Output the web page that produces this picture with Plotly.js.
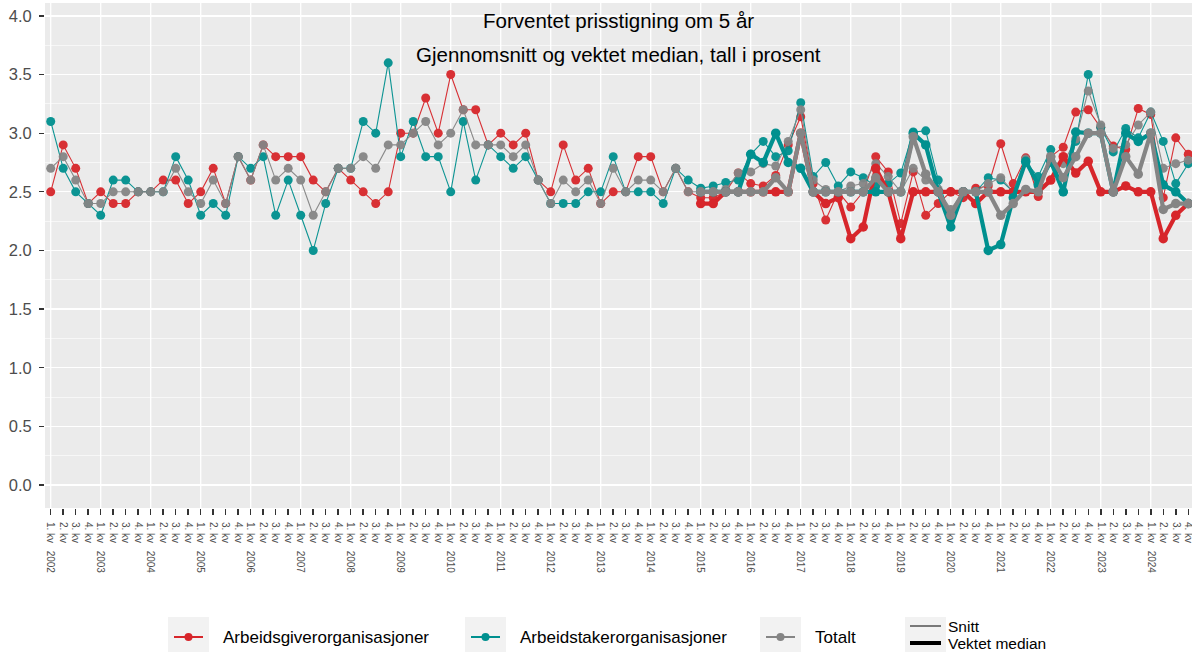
<!DOCTYPE html>
<html>
<head>
<meta charset="utf-8">
<script src="https://cdn.plot.ly/plotly-3.0.1.min.js"></script>
<style>html,body{margin:0;padding:0;overflow:hidden;background:#fff}#chart{width:1192px;height:652px}</style>
</head>
<body>
<div id="chart"></div>
<script>
// ---------- DATA ----------
const years = [2002,2003,2004,2005,2006,2007,2008,2009,2010,2011,2012,2013,2014,2015,2016,2017,2018,2019,2020,2021,2022,2023,2024];
const quarterNames = ["1. kv", "2. kv", "3. kv", "4. kv"];

// Snitt (mean), 2002 Q1 - 2024 Q4
const snittArbeidsgiver = [2.5,2.9,2.7,2.4, 2.5,2.4,2.4,2.5, 2.5,2.6,2.6,2.4, 2.5,2.7,2.4,2.8, 2.6,2.9,2.8,2.8, 2.8,2.6,2.5,2.7,
  2.6,2.5,2.4,2.5, 3.0,3.0,3.3,3.0, 3.5,3.2,3.2,2.9, 3.0,2.9,3.0,2.6, 2.5,2.9,2.6,2.7, 2.4,2.5,2.5,2.8, 2.8,2.5,2.7,2.5,
  2.45,2.45,2.5,2.66, 2.57,2.55,2.64,2.9, 3.14,2.57,2.26,2.5, 2.37,2.5,2.8,2.67, 2.23,2.67,2.3,2.4, 2.5,2.45,2.53,2.55,
  2.91,2.57,2.79,2.46, 2.8,2.88,3.18,3.2, 3.05,2.89,2.86,3.21, 3.16,2.45,2.96,2.82];
const snittArbeidstaker = [3.1,2.7,2.5,2.4, 2.3,2.6,2.6,2.5, 2.5,2.5,2.8,2.6, 2.3,2.4,2.3,2.8, 2.7,2.8,2.3,2.6, 2.3,2.0,2.4,2.7,
  2.7,3.1,3.0,3.6, 2.8,3.1,2.8,2.8, 2.5,3.1,2.6,2.9, 2.8,2.7,2.8,2.6, 2.4,2.4,2.4,2.5, 2.5,2.8,2.5,2.5, 2.5,2.4,2.7,2.6,
  2.53,2.55,2.58,2.6, 2.82,2.93,2.8,2.85, 3.26,2.63,2.75,2.55, 2.67,2.62,2.55,2.57, 2.66,3.01,3.02,2.6, 2.27,2.5,2.5,2.62,
  2.6,2.5,2.75,2.63, 2.86,2.5,2.93,3.5, 3.05,2.84,3.04,2.96, 3.18,2.93,2.57,2.74];
const snittTotalt = [2.7,2.8,2.6,2.4, 2.4,2.5,2.5,2.5, 2.5,2.5,2.7,2.5, 2.4,2.6,2.4,2.8, 2.6,2.9,2.6,2.7, 2.6,2.3,2.5,2.7,
  2.7,2.8,2.7,2.9, 2.9,3.0,3.1,2.9, 3.0,3.2,2.9,2.9, 2.9,2.8,2.9,2.6, 2.4,2.6,2.5,2.6, 2.4,2.7,2.5,2.6, 2.6,2.5,2.7,2.5,
  2.5,2.5,2.52,2.66, 2.67,2.74,2.72,2.93, 3.2,2.6,2.52,2.5, 2.55,2.57,2.74,2.63, 2.5,2.7,2.6,2.52, 2.35,2.5,2.5,2.57,
  2.62,2.5,2.78,2.55, 2.75,2.74,2.95,3.36, 3.07,2.87,2.9,3.07, 3.18,2.7,2.74,2.77];

// Vektet median, 2015 Q1 - 2024 Q4
const medianStart = 52;
const medianArbeidsgiver = [2.4,2.4,2.5,2.5, 2.5,2.5,2.5,2.5, 3.0,2.5,2.4,2.45, 2.1,2.2,2.7,2.5, 2.1,2.5,2.5,2.5,
  2.5,2.5,2.4,2.5, 2.5,2.5,2.5,2.5, 2.6,2.8,2.66,2.76, 2.5,2.5,2.55,2.5, 2.5,2.1,2.3,2.4];
const medianArbeidstaker = [2.5,2.5,2.5,2.5, 2.82,2.75,3.0,2.75, 2.7,2.5,2.5,2.5, 2.5,2.5,2.5,2.5, 2.5,3.0,2.9,2.5,
  2.2,2.5,2.5,2.0, 2.05,2.45,2.76,2.56, 2.76,2.5,3.01,3.0, 3.0,2.5,3.0,2.93, 3.0,2.56,2.5,2.4];
const medianTotalt = [2.5,2.5,2.5,2.5, 2.5,2.5,2.62,2.5, 3.0,2.5,2.5,2.5, 2.5,2.5,2.62,2.5, 2.5,2.97,2.65,2.5,
  2.3,2.5,2.5,2.5, 2.3,2.4,2.52,2.5, 2.8,2.62,2.8,3.0, 3.0,2.5,2.8,2.65, 3.0,2.35,2.4,2.4];

const seriesNames = ["Arbeidsgiverorganisasjoner", "Arbeidstakerorganisasjoner", "Totalt"];
const lineTypeNames = ["Snitt", "Vektet median"];
const yTicks = [0, 0.5, 1, 1.5, 2, 2.5, 3, 3.5, 4];

// ---------- BUILD ----------
const colors = ["#D7262B", "#00908F", "#858585"];
const nQ = years.length * 4;
const xAll = [], tickText = [], yearStarts = [];
years.forEach((yr, yi) => quarterNames.forEach((q, qi) => {
  const i = yi * 4 + qi;
  xAll.push(i);
  tickText.push(qi === 0 ? q + "\u00a0\u00a0\u2009" + yr : q);
  if (qi === 0) yearStarts.push(i);
}));
const xMed = medianArbeidsgiver.map((_, k) => medianStart + k);

const snitt = [snittArbeidsgiver, snittArbeidstaker, snittTotalt];
const medians = [medianArbeidsgiver, medianArbeidstaker, medianTotalt];

const traces = [];
snitt.forEach((ys, s) => traces.push({
  type: "scatter", mode: "lines+markers", x: xAll, y: ys, showlegend: false,
  line: {color: colors[s], width: 1.1}, opacity: 0.95,
  marker: {color: colors[s], size: 9}, hoverinfo: "skip"
}));
medians.forEach((ys, s) => traces.push({
  type: "scatter", mode: "lines+markers", x: xMed, y: ys, showlegend: false,
  line: {color: colors[s], width: 4.2},
  marker: {color: colors[s], size: 9.5}, hoverinfo: "skip"
}));

// geometry (pixels)
const W = 1192, H = 652, L = 45, R = 0, T = 3, B = 144;
const pw = W - L - R, ph = H - T - B;
const px2x = p => (p - L) / pw;
const py2y = p => (H - B - p) / ph;

// year gridlines (at each 1. kv)
const shapes = yearStarts.map(v => ({
  type: "line", xref: "x", yref: "paper", layer: "below", x0: v, x1: v, y0: 0, y1: 1,
  line: {color: "#FFFFFF", width: 1.3}
}));

// custom legend (boxes, keys, labels)
const annotations = [];
const keyX = [168, 465, 760];
const textX = [221, 518, 813];
const legY = 637;
keyX.forEach((x0, s) => {
  shapes.push({type: "rect", xref: "paper", yref: "paper", layer: "below",
    x0: px2x(x0), x1: px2x(x0 + 41), y0: py2y(654), y1: py2y(617), fillcolor: "#F2F2F2", line: {width: 0}});
  shapes.push({type: "line", xref: "paper", yref: "paper",
    x0: px2x(x0 + 6), x1: px2x(x0 + 35), y0: py2y(legY), y1: py2y(legY), line: {color: colors[s], width: 2}});
  shapes.push({type: "circle", xref: "paper", yref: "paper",
    x0: px2x(x0 + 16.5), x1: px2x(x0 + 24.5), y0: py2y(legY + 4), y1: py2y(legY - 4),
    fillcolor: colors[s], line: {width: 0}});
  annotations.push({text: seriesNames[s], xref: "paper", yref: "paper", x: px2x(textX[s]), y: py2y(legY),
    xanchor: "left", yanchor: "middle", showarrow: false, font: {size: 17, color: "#000"}});
});
shapes.push({type: "rect", xref: "paper", yref: "paper", layer: "below",
  x0: px2x(905), x1: px2x(946), y0: py2y(654), y1: py2y(617), fillcolor: "#F2F2F2", line: {width: 0}});
[[626, 1], [643, 4]].forEach(([yy, w], k) => {
  shapes.push({type: "line", xref: "paper", yref: "paper",
    x0: px2x(910), x1: px2x(941), y0: py2y(yy), y1: py2y(yy), line: {color: "#000", width: w}});
  annotations.push({text: lineTypeNames[k], xref: "paper", yref: "paper", x: px2x(946), y: py2y(yy),
    xanchor: "left", yanchor: "middle", showarrow: false, font: {size: 15.5, color: "#000"}});
});

annotations.push(
  {text: "Forventet prisstigning om 5 år", xref: "paper", yref: "paper", x: 0.5, y: py2y(20),
   xanchor: "center", yanchor: "middle", showarrow: false, font: {size: 20.5, color: "#000"}},
  {text: "Gjennomsnitt og vektet median, tall i prosent", xref: "paper", yref: "paper", x: 0.5, y: py2y(55),
   xanchor: "center", yanchor: "middle", showarrow: false, font: {size: 20.5, color: "#000"}}
);

const layout = {
  width: W, height: H,
  margin: {l: L, r: R, t: T, b: B, pad: 0},
  paper_bgcolor: "#FFFFFF", plot_bgcolor: "#EBEBEB",
  font: {family: "Liberation Sans, Arial, sans-serif", color: "#000"},
  showlegend: false,
  xaxis: {
    range: [-0.456, nQ - 0.7], tickmode: "array", tickvals: xAll, ticktext: tickText,
    tickangle: 90, tickfont: {size: 10, color: "#4D4D4D"}, ticklabelstandoff: 5, ticklabeloverflow: "allow",
    ticks: "outside", ticklen: 6, tickwidth: 1.5, tickcolor: "#333333",
    showgrid: false, zeroline: false, showline: false, automargin: false
  },
  yaxis: {
    range: [-0.196, 4.11], tickmode: "array", tickvals: yTicks, tickformat: ".1f",
    tickfont: {size: 16.5, color: "#4D4D4D"}, ticklabelstandoff: 4,
    ticks: "outside", ticklen: 5, tickwidth: 1.3, tickcolor: "#333333",
    showgrid: true, gridcolor: "#FFFFFF", gridwidth: 1.3, zeroline: false, showline: false, automargin: false,
    minor: {tick0: 0.25, dtick: 0.5, showgrid: true, gridcolor: "#FFFFFF", gridwidth: 0.6, ticks: ""}
  },
  shapes: shapes,
  annotations: annotations
};

Plotly.newPlot("chart", traces, layout, {displayModeBar: false, staticPlot: true});
</script>
</body>
</html>
